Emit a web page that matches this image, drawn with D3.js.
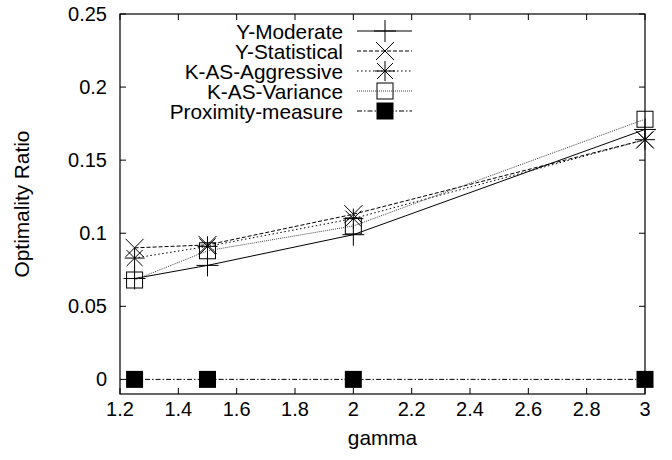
<!DOCTYPE html>
<html><head><meta charset="utf-8">
<script src="https://cdn.jsdelivr.net/npm/d3@7"></script>
<style>body{margin:0;background:#fff}svg{display:block}text{font-family:"Liberation Sans",Arial,Helvetica,sans-serif;fill:#000}</style>
</head><body>
<script>
const gammas = [1.25, 1.5, 2, 3];
const seriesNames = ["Y-Moderate","Y-Statistical","K-AS-Aggressive","K-AS-Variance","Proximity-measure"];
const yModerate    = [0.069, 0.078, 0.099, 0.171];
const yStatistical = [0.090, 0.092, 0.113, 0.164];
const kasAggressive= [0.083, 0.091, 0.110, 0.164];
const kasVariance  = [0.068, 0.088, 0.105, 0.178];
const proximity    = [0, 0, 0, 0];
const xTicks = [1.2,1.4,1.6,1.8,2,2.2,2.4,2.6,2.8,3];
const yTicks = [0,0.05,0.1,0.15,0.2,0.25];
const xTickLabels = ["1.2","1.4","1.6","1.8","2","2.2","2.4","2.6","2.8","3"];
const yTickLabels = ["0","0.05","0.1","0.15","0.2","0.25"];

const W=672,H=460;
const L=120,R=645,T=14,B=394;
const svg=d3.select("body").append("svg").attr("width",W).attr("height",H);
const x=d3.scaleLinear().domain([1.2,3]).range([L,R]);
const y=d3.scaleLinear().domain([-0.01,0.25]).range([B,T]);
const FS=20, FL=20.8;

// frame
svg.append("rect").attr("x",L).attr("y",T).attr("width",R-L).attr("height",B-T)
  .attr("fill","none").attr("stroke","#000").attr("stroke-width",1.2);
const tl=6;
xTicks.forEach((v,i)=>{
  const px=x(v);
  svg.append("line").attr("x1",px).attr("x2",px).attr("y1",B).attr("y2",B-tl).attr("stroke","#000");
  svg.append("line").attr("x1",px).attr("x2",px).attr("y1",T).attr("y2",T+tl).attr("stroke","#000");
  svg.append("text").attr("x",px).attr("y",416).attr("text-anchor","middle").attr("font-size",FS).text(xTickLabels[i]);
});
yTicks.forEach((v,i)=>{
  const py=y(v);
  svg.append("line").attr("x1",L).attr("x2",L+tl).attr("y1",py).attr("y2",py).attr("stroke","#000");
  svg.append("line").attr("x1",R).attr("x2",R-tl).attr("y1",py).attr("y2",py).attr("stroke","#000");
  svg.append("text").attr("x",107).attr("y",py+7).attr("text-anchor","end").attr("font-size",FS).text(yTickLabels[i]);
});
svg.append("text").attr("x",(L+R)/2).attr("y",445).attr("text-anchor","middle").attr("font-size",FL).text("gamma");
svg.append("text").attr("transform",`translate(29,${(T+B)/2}) rotate(-90)`).attr("text-anchor","middle").attr("font-size",FL).text("Optimality Ratio");

// markers
function marker(g,type,cx,cy){
  const s=g.append("g").attr("transform",`translate(${cx},${cy})`);
  const ln=(x1,y1,x2,y2)=>s.append("line").attr("x1",x1).attr("y1",y1).attr("x2",x2).attr("y2",y2).attr("stroke","#000").attr("stroke-width",1);
  if(type==="plus"){ln(-11,0,11,0);ln(0,-11,0,11);}
  else if(type==="x"){ln(-9,-9,9,9);ln(-9,9,9,-9);}
  else if(type==="star"){ln(-10,0,10,0);ln(0,-10,0,10);ln(-8,-8,8,8);ln(-8,8,8,-8);}
  else if(type==="box"){s.append("rect").attr("x",-8).attr("y",-8).attr("width",16).attr("height",16).attr("fill","none").attr("stroke","#000");}
  else if(type==="fbox"){s.append("rect").attr("x",-8.5).attr("y",-8.5).attr("width",17).attr("height",17).attr("fill","#000");}
}
const series=[
  {name:seriesNames[0],vals:yModerate,dash:null,marker:"plus",color:"#000"},
  {name:seriesNames[1],vals:yStatistical,dash:"4,2",marker:"x",color:"#000"},
  {name:seriesNames[2],vals:kasAggressive,dash:"1.5,2.5",marker:"star",color:"#000"},
  {name:seriesNames[3],vals:kasVariance,dash:"1,1",marker:"box",color:"#444"},
  {name:seriesNames[4],vals:proximity,dash:"5,2,1.5,2",marker:"fbox",color:"#000"}
];
const line=d3.line().x(d=>x(d[0])).y(d=>y(d[1]));
series.forEach((s,i)=>{
  const pts=gammas.map((g,j)=>[g,s.vals[j]]);
  const p=svg.append("path").attr("d",line(pts)).attr("fill","none").attr("stroke",s.color).attr("stroke-width",1);
  if(s.dash)p.attr("stroke-dasharray",s.dash);
  pts.forEach(d=>marker(svg,s.marker,x(d[0]),y(d[1])));
  // legend
  const ly=31+i*20;
  svg.append("text").attr("x",343).attr("y",ly+7.5).attr("text-anchor","end").attr("font-size",FL).text(s.name);
  const ll=svg.append("line").attr("x1",357).attr("x2",412).attr("y1",ly).attr("y2",ly).attr("stroke",s.color).attr("stroke-width",1);
  if(s.dash)ll.attr("stroke-dasharray",s.dash);
  marker(svg,s.marker,385,ly);
});
</script>
</body></html>
